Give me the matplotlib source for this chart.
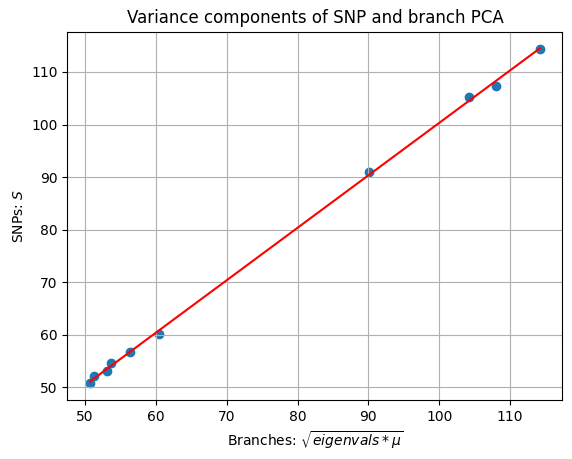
import numpy as np
import matplotlib
matplotlib.use("Agg")
import matplotlib.pyplot as plt

# branch eigenvalue-based values vs SNP variance components
branches = [50.7, 51.2, 53.1, 53.7, 56.3, 60.4, 90.1, 104.2, 108.0, 114.2]
snps = [50.8, 52.1, 53.0, 54.6, 56.75, 60.2, 90.9, 105.3, 107.4, 114.4]

x = np.array(branches)
y = np.array(snps)
coef = np.polyfit(x, y, 1)
xx = np.array([x.min(), x.max()])

fig = plt.figure(figsize=(5.72, 4.59), dpi=100)
ax = fig.add_axes([0.118, 0.129, 0.865, 0.802])
ax.scatter(x, y)
ax.plot(xx, np.polyval(coef, xx), color="red")
ax.set_title("Variance components of SNP and branch PCA")
ax.set_xlabel(r"Branches: $\sqrt{eigenvals * \mu}$")
ax.set_ylabel(r"SNPs: $S$")
ax.grid()
fig.savefig("out.png", dpi=100)
